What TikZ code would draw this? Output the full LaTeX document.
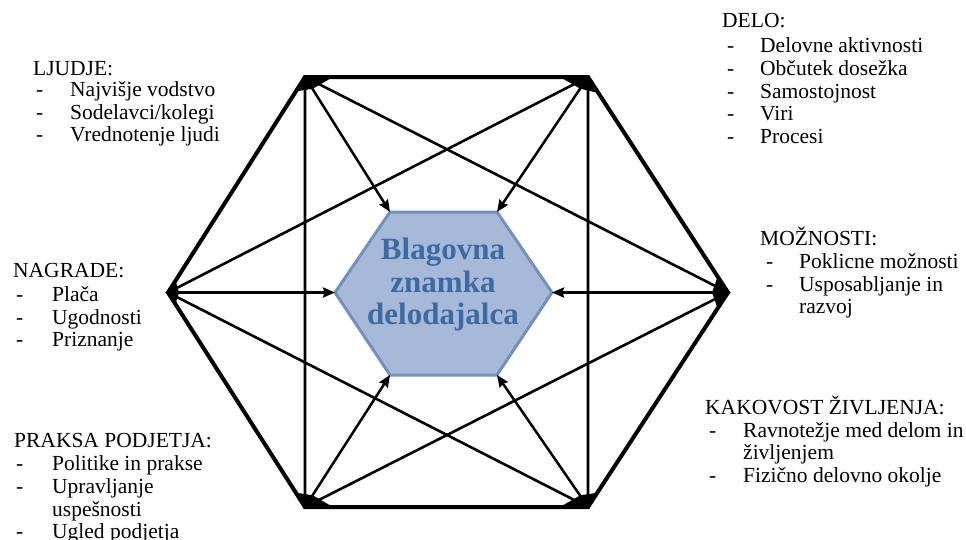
\documentclass[tikz,border=0pt]{standalone}
\usepackage{fontspec}
\setmainfont{Liberation Serif}
\usetikzlibrary{arrows.meta,calc}
\definecolor{hexfill}{HTML}{A7B9D9}
\definecolor{hexdraw}{HTML}{7490BC}
\definecolor{hextext}{HTML}{3D6AA0}
\tikzset{
  lbl/.style={anchor=base west,inner sep=0pt,font=\fontsize{21.5}{23}\selectfont},
  outerhex/.style={line width=4pt,line join=miter},
  starline/.style={line width=2.6pt},
  toarrow/.style={line width=2.5pt,-{Stealth[length=12pt,width=10pt,inset=1.5pt]}},
  blob/.style={fill=black},
}
\begin{document}
\begin{tikzpicture}[x=1pt,y=-1pt]
\useasboundingbox (0,0) rectangle (966,539);
% outer vertices
\coordinate (TL) at (305,77);
\coordinate (TR) at (588,77);
\coordinate (R) at (728,292.5);
\coordinate (BR) at (588,507);
\coordinate (BL) at (305,507);
\coordinate (L) at (168,292.5);
\coordinate (C) at (446,292.5);
% inner hexagon
\coordinate (iTL) at (390,212);
\coordinate (iTR) at (497,212);
\coordinate (iR) at (552,292.5);
\coordinate (iBR) at (497,375);
\coordinate (iBL) at (390,375);
\coordinate (iL) at (335,292.5);
% star lines
\draw[starline] (TL) -- (R) -- (BL) -- cycle;
\draw[starline] (TR) -- (L) -- (BR) -- cycle;
% outer hexagon
\draw[outerhex] (TL) -- (TR) -- (R) -- (BR) -- (BL) -- (L) -- cycle;
% corner blobs
\fill[blob] (TL) -- ($(TL)!28pt!(TR)$) -- ($(TL)!14pt!(C)$) -- ($(TL)!17pt!(L)$) -- cycle;
\fill[blob] (TR) -- ($(TR)!28pt!(TL)$) -- ($(TR)!14pt!(C)$) -- ($(TR)!19pt!(R)$) -- cycle;
\fill[blob] (R) -- ($(R)!19pt!(TR)$) -- ($(R)!16pt!(C)$) -- ($(R)!19pt!(BR)$) -- cycle;
\fill[blob] (BR) -- ($(BR)!28pt!(BL)$) -- ($(BR)!14pt!(C)$) -- ($(BR)!17pt!(R)$) -- cycle;
\fill[blob] (BL) -- ($(BL)!28pt!(BR)$) -- ($(BL)!14pt!(C)$) -- ($(BL)!17pt!(L)$) -- cycle;
\fill[blob] (L) -- ($(L)!14pt!(TL)$) -- ($(L)!11pt!(C)$) -- ($(L)!14pt!(BL)$) -- cycle;
% inner hexagon
\filldraw[fill=hexfill,draw=hexdraw,line width=3pt,line join=round]
  (iTL) -- (iTR) -- (iR) -- (iBR) -- (iBL) -- (iL) -- cycle;
\node[align=center,text=hextext,font=\fontsize{31}{32.5}\selectfont\bfseries,inner sep=0pt] (brand) at (443,285) {Blagovna\\znamka\\delodajalca};
% arrows
\draw[toarrow] (TL) -- (iTL);
\draw[toarrow] (TR) -- (iTR);
\draw[toarrow] (R) -- (iR);
\draw[toarrow] (BR) -- (iBR);
\draw[toarrow] (BL) -- (iBL);
\draw[toarrow] (L) -- (iL);
% LJUDJE
\node[lbl] (ljh) at (33,75) {LJUDJE:};
\node[lbl] (ljd1) at (36,96) {-};  \node[lbl] (lj1) at (70,96) {Najvišje vodstvo};
\node[lbl] (ljd2) at (36,119) {-}; \node[lbl] (lj2) at (70,119) {Sodelavci/kolegi};
\node[lbl] (ljd3) at (36,141) {-}; \node[lbl] (lj3) at (70,141) {Vrednotenje ljudi};
% DELO
\node[lbl] (deh) at (722,27) {DELO:};
\node[lbl] (ded1) at (727,52) {-};  \node[lbl] (de1) at (760,52) {Delovne aktivnosti};
\node[lbl] (ded2) at (727,75) {-};  \node[lbl] (de2) at (760,75) {Občutek dosežka};
\node[lbl] (ded3) at (727,98) {-};  \node[lbl] (de3) at (760,98) {Samostojnost};
\node[lbl] (ded4) at (727,120) {-}; \node[lbl] (de4) at (760,120) {Viri};
\node[lbl] (ded5) at (727,143) {-}; \node[lbl] (de5) at (760,143) {Procesi};
% NAGRADE
\node[lbl] (nah) at (13,277) {NAGRADE:};
\node[lbl] (nad1) at (16,301) {-}; \node[lbl] (na1) at (52,301) {Plača};
\node[lbl] (nad2) at (16,324) {-}; \node[lbl] (na2) at (52,324) {Ugodnosti};
\node[lbl] (nad3) at (16,346) {-}; \node[lbl] (na3) at (52,346) {Priznanje};
% MOZNOSTI
\node[lbl] (moh) at (760,245) {MOŽNOSTI:};
\node[lbl] (mod1) at (766,268) {-}; \node[lbl] (mo1) at (799,268) {Poklicne možnosti};
\node[lbl] (mod2) at (766,291) {-}; \node[lbl] (mo2) at (799,291) {Usposabljanje in};
\node[lbl] (mo3) at (799,313) {razvoj};
% KAKOVOST
\node[lbl] (kah) at (705,414) {KAKOVOST ŽIVLJENJA:};
\node[lbl] (kad1) at (709,437) {-}; \node[lbl] (ka1) at (743,437) {Ravnotežje med delom in};
\node[lbl] (ka2) at (743,459) {življenjem};
\node[lbl] (kad3) at (709,482) {-}; \node[lbl] (ka3) at (743,482) {Fizično delovno okolje};
% PRAKSA
\node[lbl] (prh) at (14,447) {PRAKSA PODJETJA:};
\node[lbl] (prd1) at (16,470) {-}; \node[lbl] (pr1) at (52,470) {Politike in prakse};
\node[lbl] (prd2) at (16,493) {-}; \node[lbl] (pr2) at (52,493) {Upravljanje};
\node[lbl] (pr3) at (52,516) {uspešnosti};
\node[lbl] (prd4) at (16,538) {-}; \node[lbl] (pr4) at (52,538) {Ugled podjetja};
\end{tikzpicture}
\end{document}
